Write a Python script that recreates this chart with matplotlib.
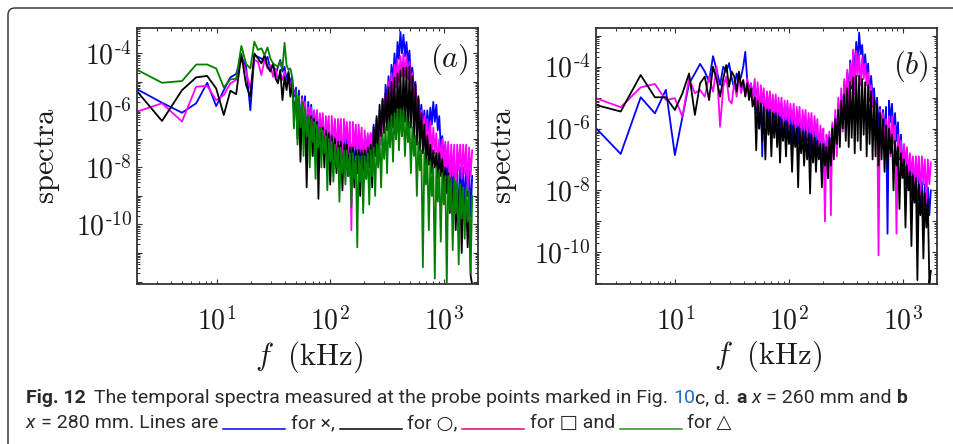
import matplotlib
matplotlib.use('Agg')
import matplotlib.pyplot as plt
import numpy as np
from matplotlib import font_manager
from matplotlib.patches import FancyBboxPatch
from matplotlib.lines import Line2D
from matplotlib.transforms import IdentityTransform
from matplotlib.ticker import FixedLocator, LogLocator, FuncFormatter, NullFormatter

plt.rcParams['mathtext.fontset'] = 'cm'

# frequency (kHz): discrete low-frequency bins, then the dense part of the spectrum
freq_lo = [2.0, 3.3, 4.95, 6.6, 8.25, 9.9, 11.55, 13.2, 14.85, 16.5,
           18.15, 19.8, 21.45, 23.1, 24.75, 26.4, 28.05, 29.7, 31.35, 33.0,
           34.65, 36.3, 37.95, 39.6, 41.25, 42.9, 44.55, 46.2, 47.85]
freq_hi = [50, 51.5, 53, 54.7, 56.5, 58.2, 60, 62, 64, 66,
           68, 70, 72, 74.2, 76.5, 78.7, 81, 83.5, 86, 88.7,
           91.5, 94.2, 97, 100, 103, 106.5, 110, 113.5, 117, 120.5,
           124, 128, 132, 136, 140, 144.5, 149, 153.5, 158, 163,
           168, 173, 178, 183.5, 189, 195, 201, 207.5, 214, 220.5,
           227, 234, 241, 248.5, 256, 264, 272, 280.5, 289, 298,
           307, 316.5, 326, 336, 346, 357, 368, 379.5, 391, 403,
           415, 428, 441, 455, 469, 483.5, 498, 513, 529, 545.5,
           562, 579, 597, 615, 634, 654, 674, 695, 716, 738,
           761, 784, 808, 833, 859, 885, 912, 940, 969, 999,
           1030, 1062, 1094, 1128, 1162, 1198, 1235, 1273, 1312, 1352,
           1394, 1437, 1481, 1527, 1573, 1622, 1671, 1723, 1776]

# log10 of the spectra, x = 260 mm
a_blue_lo = [-5.26, -5.73, -6.08, -5.75, -5.03, -5.85, -5.29, -4.84, -4.72, -4.12,
             -4.47, -5.99, -4.06, -4.12, -4.18, -4.29, -4.12, -4.58, -4.41, -4.76,
             -4.47, -4.23, -4.64, -4.47, -4.93, -4.64, -5.05, -4.82, -5.52]
a_blue_hi = [-5.2, -6.4, -5.3, -6.9, -5.5, -6.2, -5.5, -7.4, -5.7, -6.5,
             -5.8, -7.0, -6.0, -6.8, -6.0, -7.6, -6.2, -6.9, -6.3, -7.3,
             -6.5, -7.1, -6.5, -7.8, -6.7, -7.4, -6.8, -8.0, -6.9, -7.5,
             -6.9, -8.2, -7.0, -7.6, -7.0, -8.3, -7.0, -7.7, -7.1, -8.1,
             -7.1, -7.8, -7.1, -8.4, -7.0, -7.6, -7.0, -8.2, -6.9, -7.5,
             -6.8, -7.9, -6.5, -7.2, -6.3, -7.3, -6.0, -6.7, -5.6, -6.6,
             -5.1, -5.8, -4.8, -5.7, -4.4, -5.0, -4.0, -4.9, -3.6, -4.2,
             -3.25, -4.0, -3.35, -4.1, -3.6, -4.4, -3.9, -4.8, -4.5, -5.3,
             -5.0, -5.9, -5.6, -6.3, -5.8, -6.6, -6.0, -6.8, -6.0, -6.7,
             -5.9, -6.5, -5.7, -6.4, -5.8, -6.7, -6.2, -7.3, -6.9, -7.8,
             -7.2, -8.3, -7.5, -8.6, -7.6, -9.0, -7.8, -8.8, -7.9, -10.4,
             -8.0, -9.1, -8.0, -9.5, -8.1, -9.0, -8.1, -9.7, -8.3]
a_magenta_lo = [-6.04, -5.75, -6.39, -5.17, -5.14, -5.64, -5.46, -5.05, -4.93, -4.18,
                -4.64, -5.23, -4.23, -4.29, -4.76, -4.23, -4.53, -4.41, -4.82, -4.53,
                -4.99, -4.70, -4.93, -4.64, -5.17, -4.88, -5.11, -4.99, -5.40]
a_magenta_hi = [-5.4, -6.5, -5.5, -6.9, -5.6, -6.3, -5.7, -7.2, -5.9, -6.6,
                -5.9, -7.6, -6.0, -6.7, -6.0, -8.0, -6.1, -6.9, -6.1, -7.4,
                -6.2, -7.0, -6.2, -8.5, -6.2, -7.1, -6.3, -7.6, -6.3, -7.2,
                -6.3, -8.0, -6.3, -7.1, -6.4, -7.5, -6.4, -10.2, -6.4, -7.3,
                -6.5, -7.8, -6.5, -7.4, -6.6, -8.6, -6.7, -7.5, -6.8, -7.6,
                -6.8, -7.4, -6.7, -7.5, -6.5, -7.1, -6.3, -7.2, -5.9, -6.7,
                -5.4, -6.3, -5.0, -5.9, -4.7, -5.5, -4.4, -5.2, -4.2, -5.0,
                -4.1, -4.8, -4.0, -4.8, -4.1, -4.9, -4.3, -5.1, -4.7, -5.6,
                -5.1, -6.0, -5.6, -6.6, -6.0, -6.9, -6.2, -7.2, -6.3, -7.4,
                -6.4, -7.6, -6.6, -7.5, -6.8, -8.0, -7.0, -7.9, -7.0, -8.2,
                -7.1, -8.0, -7.1, -8.6, -7.2, -8.3, -7.2, -9.1, -7.2, -8.1,
                -7.2, -8.4, -7.2, -8.2, -7.2, -8.8, -7.3, -8.3, -7.4]
a_black_lo = [-5.34, -6.37, -5.29, -4.84, -4.79, -5.23, -6.16, -5.31, -5.43, -4.02,
              -5.11, -5.52, -4.00, -4.18, -4.35, -4.06, -4.47, -4.64, -4.35, -4.88,
              -5.05, -4.58, -5.64, -4.82, -5.29, -4.70, -5.52, -5.05, -5.99]
a_black_hi = [-5.6, -7.0, -5.8, -7.8, -6.0, -6.9, -6.1, -8.7, -6.2, -7.2,
              -6.2, -7.6, -6.3, -7.3, -6.4, -9.1, -6.6, -7.5, -6.6, -8.0,
              -6.7, -7.6, -6.8, -8.6, -6.9, -7.8, -7.0, -8.2, -7.1, -7.9,
              -7.1, -8.8, -7.2, -8.0, -7.2, -8.3, -7.3, -8.1, -7.3, -8.7,
              -7.4, -8.2, -7.4, -9.0, -7.4, -8.1, -7.4, -8.4, -7.3, -8.0,
              -7.2, -8.7, -6.6, -7.6, -6.2, -7.5, -5.8, -6.9, -5.6, -6.8,
              -5.4, -6.7, -5.2, -7.0, -5.0, -6.6, -4.85, -7.0, -4.7, -6.5,
              -4.6, -6.9, -4.5, -6.4, -4.5, -7.1, -4.45, -6.6, -4.8, -7.0,
              -5.1, -7.2, -5.5, -7.4, -6.1, -7.5, -6.5, -7.9, -6.9, -7.9,
              -7.2, -8.2, -7.4, -8.0, -7.5, -8.4, -7.5, -8.3, -7.7, -8.8,
              -8.0, -8.9, -8.2, -9.6, -8.4, -9.3, -8.5, -10.2, -8.7, -9.5,
              -8.8, -11.0, -8.9, -9.9, -9.1, -10.8, -9.3, -11.8, -12.1]
a_green_lo = [-4.58, -5.03, -4.97, -4.39, -4.39, -4.53, -5.19, -4.91, -4.89, -3.74,
              -4.37, -4.53, -3.59, -3.88, -3.82, -4.06, -3.79, -4.18, -4.35, -4.41,
              -4.47, -4.29, -4.53, -3.63, -4.41, -4.58, -4.53, -4.82, -6.63]
a_green_hi = [-5.3, -7.2, -5.5, -6.6, -5.7, -7.6, -5.9, -6.9, -6.2, -8.0,
              -6.3, -7.1, -6.4, -8.4, -6.5, -7.3, -6.6, -8.0, -6.7, -7.5,
              -6.9, -8.8, -7.0, -7.8, -7.1, -8.5, -7.2, -8.0, -7.3, -9.2,
              -7.3, -8.2, -7.4, -8.6, -7.4, -8.3, -7.5, -9.4, -7.5, -8.4,
              -7.6, -10.8, -7.6, -8.5, -7.6, -9.6, -7.6, -8.4, -7.5, -9.3,
              -7.4, -8.3, -7.3, -9.0, -7.2, -8.0, -7.0, -8.7, -6.8, -7.7,
              -6.6, -8.2, -6.4, -7.3, -6.2, -7.8, -6.1, -7.0, -5.95, -7.4,
              -5.95, -6.9, -6.0, -7.6, -6.2, -7.1, -6.4, -8.2, -6.6, -7.6,
              -6.9, -9.0, -7.1, -8.1, -7.4, -11.5, -7.5, -8.6, -7.7, -10.2,
              -7.8, -9.0, -8.0, -11.9, -8.0, -9.2, -8.1, -10.6, -8.2, -9.3,
              -8.3, -12.1, -8.3, -9.5, -8.4, -10.9, -8.4, -9.6, -8.5, -11.4,
              -8.6, -9.8, -8.7, -10.5, -8.7, -9.9, -8.8, -11.7, -9.0]

# log10 of the spectra, x = 280 mm
b_blue_lo = [-5.99, -6.82, -4.99, -5.51, -4.75, -6.86, -5.62, -4.54, -4.22, -3.91,
             -4.16, -4.48, -3.66, -4.11, -4.59, -4.00, -4.16, -3.89, -4.38, -4.70,
             -4.22, -4.48, -4.32, -4.00, -3.52, -4.43, -4.75, -4.54, -4.86]
b_blue_hi = [-4.6, -5.5, -4.7, -6.0, -4.8, -6.9, -4.9, -5.6, -4.9, -5.9,
             -5.0, -5.7, -5.0, -6.1, -5.1, -5.8, -5.2, -6.3, -5.2, -5.9,
             -5.3, -6.4, -5.3, -6.0, -5.4, -6.6, -5.5, -6.1, -5.6, -6.5,
             -5.7, -6.3, -5.8, -7.0, -5.8, -6.4, -5.9, -6.8, -5.9, -6.6,
             -6.0, -7.2, -6.1, -6.7, -6.2, -7.5, -6.3, -7.0, -6.4, -7.6,
             -6.2, -7.0, -5.9, -6.8, -5.6, -6.4, -5.2, -6.3, -4.9, -5.7,
             -4.5, -5.6, -4.2, -5.0, -3.8, -4.7, -3.5, -4.3, -3.2, -3.9,
             -2.9, -3.6, -3.3, -4.1, -3.6, -4.3, -3.9, -5.1, -4.3, -5.0,
             -4.7, -5.6, -5.0, -6.0, -5.3, -6.1, -5.4, -6.3, -5.3, -9.4,
             -5.1, -5.8, -5.2, -6.2, -5.5, -6.4, -5.8, -7.0, -6.2, -7.3,
             -6.7, -7.8, -6.9, -7.6, -7.0, -8.2, -7.2, -8.0, -7.4, -8.9,
             -7.5, -8.3, -7.7, -9.0, -7.8, -8.5, -7.9, -8.8, -8.0]
b_magenta_lo = [-5.02, -5.31, -4.67, -4.56, -5.08, -5.02, -5.62, -4.38, -4.86, -4.75,
                -4.97, -4.32, -4.81, -4.00, -5.94, -4.65, -4.32, -5.08, -5.19, -4.48,
                -4.97, -4.32, -4.86, -4.48, -4.92, -4.38, -4.81, -4.54, -5.08]
b_magenta_hi = [-4.4, -5.3, -4.5, -5.6, -4.6, -5.2, -4.7, -5.9, -4.8, -5.4,
                -4.8, -6.1, -4.9, -5.5, -4.9, -5.9, -5.0, -5.6, -5.0, -6.2,
                -5.1, -5.7, -5.1, -6.0, -5.2, -5.8, -5.2, -6.3, -5.3, -5.9,
                -5.3, -6.4, -5.4, -6.0, -5.4, -6.3, -5.5, -6.1, -5.5, -6.6,
                -5.6, -6.2, -5.7, -6.9, -5.9, -6.5, -6.0, -9.0, -6.2, -6.8,
                -6.1, -8.8, -5.8, -6.6, -5.4, -6.9, -5.0, -5.9, -4.7, -6.1,
                -4.4, -5.2, -4.1, -5.3, -3.9, -4.6, -3.45, -4.9, -3.5, -4.3,
                -3.6, -4.6, -3.7, -4.4, -3.9, -4.6, -4.2, -5.0, -4.6, -5.3,
                -5.0, -5.8, -5.2, -10.1, -5.4, -6.2, -5.5, -6.8, -5.7, -6.4,
                -5.6, -6.9, -5.6, -6.5, -5.9, -9.4, -6.2, -6.9, -6.4, -7.4,
                -6.5, -7.2, -6.6, -7.6, -6.8, -7.5, -6.9, -7.9, -6.9, -7.7,
                -6.9, -8.2, -6.9, -7.8, -7.0, -8.4, -7.0, -7.8, -7.1]
b_black_lo = [-5.24, -5.45, -4.27, -4.99, -4.99, -5.40, -4.86, -4.22, -5.56, -4.54,
              -4.32, -5.08, -4.00, -4.43, -4.97, -4.38, -3.95, -4.65, -4.16, -4.32,
              -4.81, -4.16, -4.65, -4.43, -4.97, -4.54, -5.08, -4.70, -5.29]
b_black_hi = [-5.0, -6.7, -5.1, -6.0, -5.2, -6.4, -5.3, -7.0, -5.4, -6.2,
              -5.4, -6.9, -5.5, -6.3, -5.5, -6.6, -5.6, -7.1, -5.7, -6.4,
              -5.8, -6.9, -5.8, -6.5, -5.9, -7.4, -5.9, -6.6, -6.0, -7.9,
              -6.0, -6.8, -6.1, -7.2, -6.1, -7.0, -6.2, -8.1, -6.2, -7.1,
              -6.3, -7.4, -6.4, -7.0, -6.5, -7.9, -6.5, -7.2, -6.6, -7.6,
              -6.3, -7.2, -6.0, -7.0, -5.7, -6.5, -5.4, -6.6, -5.1, -6.0,
              -4.9, -6.4, -4.7, -6.6, -4.5, -6.3, -4.35, -6.8, -4.3, -6.4,
              -4.3, -6.7, -4.4, -6.2, -4.5, -6.9, -4.6, -6.5, -4.8, -7.0,
              -5.0, -6.9, -5.2, -7.2, -5.5, -7.0, -5.7, -7.4, -5.9, -7.3,
              -6.0, -6.8, -6.2, -8.0, -6.4, -7.2, -6.6, -8.6, -6.8, -7.6,
              -7.0, -9.2, -7.2, -8.0, -7.4, -9.8, -7.5, -8.4, -7.6, -10.9,
              -7.8, -8.8, -8.0, -10.2, -8.1, -9.2, -8.3, -11.0, -10.6]

W, H = 954, 444
fig = plt.figure(figsize=(W / 100, H / 100), dpi=100)
fig.patch.set_facecolor('white')

freq = np.array(freq_lo + freq_hi)
BLUE, BLACK, MAGENTA, GREEN = '#0000ff', '#000000', '#ff00ff', '#008000'


def spec(lo, hi):
    return 10.0 ** np.array(lo + hi)


def setup(ax, ylim):
    ax.set_xscale('log')
    ax.set_yscale('log')
    ax.set_xlim(2, 2000)
    ax.set_ylim(*ylim)
    ax.xaxis.set_major_locator(FixedLocator([10, 100, 1000]))
    ax.xaxis.set_minor_locator(LogLocator(base=10, subs=np.arange(2, 10), numticks=20))
    ax.xaxis.set_major_formatter(FuncFormatter(lambda v, p: r'$10^{%d}$' % round(np.log10(v))))
    ax.xaxis.set_minor_formatter(NullFormatter())
    ax.yaxis.set_major_locator(FixedLocator(10.0 ** np.arange(-12, -2)))
    ax.yaxis.set_minor_locator(LogLocator(base=10, subs=np.arange(2, 10), numticks=20))

    def ylab(v, p):
        e = int(round(np.log10(v)))
        return r'$10^{\text{-}%d}$' % -e if e in (-10, -8, -6, -4) else ''
    ax.yaxis.set_major_formatter(FuncFormatter(ylab))
    ax.yaxis.set_minor_formatter(NullFormatter())
    ax.tick_params(which='both', direction='in', top=True, right=True, colors='#333333',
                   labelcolor='#1a1a1a', labelsize=20)
    ax.tick_params(which='major', length=3.5, width=0.8)
    ax.tick_params(which='minor', length=2.0, width=0.7)
    ax.tick_params(axis='x', pad=17)
    ax.tick_params(axis='y', pad=4)
    for s in ax.spines.values():
        s.set_color('#333333')
        s.set_linewidth(1.3)


def fpos(x, y):
    return x / W, 1 - y / H


# panel (a)
ax1 = fig.add_axes([137.3 / W, 1 - 283.5 / H, 340.7 / W, 255.2 / H])
setup(ax1, (10 ** -12.07, 10 ** -3.12))
ax1.plot(freq, spec(a_blue_lo, a_blue_hi), color=BLUE, lw=1.3)
ax1.plot(freq, spec(a_magenta_lo, a_magenta_hi), color=MAGENTA, lw=1.3)
ax1.plot(freq, spec(a_black_lo, a_black_hi), color=BLACK, lw=1.3)
ax1.plot(freq, spec(a_green_lo, a_green_hi), color=GREEN, lw=1.3)

# panel (b)
ax2 = fig.add_axes([596 / W, 1 - 283.5 / H, 340.7 / W, 255.2 / H])
setup(ax2, (10 ** -11.01, 10 ** -2.76))
ax2.plot(freq, spec(b_blue_lo, b_blue_hi), color=BLUE, lw=1.3)
ax2.plot(freq, spec(b_magenta_lo, b_magenta_hi), color=MAGENTA, lw=1.3)
ax2.plot(freq, spec(b_black_lo, b_black_hi), color=BLACK, lw=1.3)

for cx, cy, ycx, tag, tx, ty in [(309.5, 357, 47, '(a)', 449, 59), (768, 356, 504, '(b)', 911, 66)]:
    fig.text(*fpos(cx, cy), r'$f\ \ \mathrm{(kHz)}$', fontsize=22, ha='center', va='center', color='#1a1a1a')
    fig.text(*fpos(ycx, 155), r'$\mathrm{spectra}$', fontsize=22, rotation=90,
             ha='center', va='center', color='#1a1a1a')
    fig.text(*fpos(tx, ty), r'$%s$' % tag, fontsize=22, ha='center', va='center', color='#1a1a1a')

# rounded frame around figure and caption
frame = FancyBboxPatch((8, -40), 1040, H - 8 + 40, boxstyle='round,pad=0,rounding_size=7',
                       transform=IdentityTransform(), fill=False, ec='#3c3c3c', lw=1.1)
fig.patches.append(frame)

# caption
avail = {f.name for f in font_manager.fontManager.ttflist}
cap_font = next(n for n in ['Liberation Sans Narrow', 'Roboto', 'DejaVu Sans'] if n in avail)
cap_family = [cap_font, 'DejaVu Sans']
renderer = fig.canvas.get_renderer()

BOLD = dict(weight='bold')
ITAL = dict(style='italic')
line1 = [('Fig. 12', BOLD, 1.6),
         ('The temporal spectra measured at the probe points marked in Fig.', {}, 1),
         ('10', dict(color='#1f6fc0'), 0),
         ('c, d.', {}, 1),
         ('a', BOLD, 1),
         ('x', ITAL, 1),
         ('= 260 mm and', {}, 1),
         ('b', BOLD, 0)]
line2 = [('x', ITAL, 1),
         ('= 280 mm. Lines are', {}, 1),
         (None, BLUE, 1),
         ('for \u00d7,', {}, 1),
         (None, BLACK, 1),
         ('for \u25cb,', {}, 1),
         (None, '#e6007e', 1),
         ('for \u25a1 and', {}, 1),
         (None, '#2e8b2e', 1),
         ('for \u25b3', {}, 0)]


def place_runs(runs, x0, y_base, size):
    made = []
    x = x0
    sp = 0.27 * size * 100 / 72
    for text, props, gap in runs:
        if text is None:
            ln = Line2D([x, x + 62], [H - y_base - 1] * 2, transform=IdentityTransform(),
                        color=props, lw=1.1)
            fig.add_artist(ln)
            made.append(ln)
            x += 62 + gap * sp
            continue
        kw = dict(fontsize=size, family=cap_family, color='#2b2b2b', va='baseline', ha='left')
        kw.update(props)
        t = fig.text(*fpos(x, y_base), text, **kw)
        made.append(t)
        x = t.get_window_extent(renderer=renderer).x1 + gap * sp
    return made, x


made, end = place_runs(line1, 26, 403, 12)
size = 12 * (900 - 26) / (end - 26)
for m in made:
    m.remove()
place_runs(line1, 26, 403, size)
place_runs(line2, 26, 428, size)

fig.savefig('out.png', dpi=100)
